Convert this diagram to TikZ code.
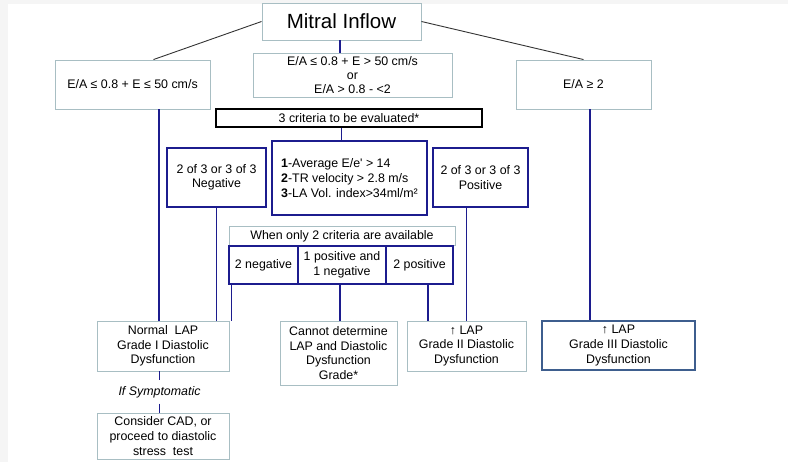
\documentclass[tikz,border=0pt]{standalone}
\usepackage{fontspec}
\setmainfont{Liberation Sans}
\usepackage{tikz}
\usetikzlibrary{positioning}
\usetikzlibrary{calc}
\definecolor{navyLine}{HTML}{1C1C8E}
\definecolor{paleEdge}{HTML}{A8BEC3}
\definecolor{steelEdge}{HTML}{3E5E8E}

\begin{document}
\begin{tikzpicture}[x=1pt, y=-1pt]
	\tikzstyle{every node}=[font=\fontsize{12.4}{14.6}\selectfont, inner sep=2pt, align=center]
	\tikzstyle{pale}=[draw=paleEdge, line width=0.9pt, fill=white]
	\tikzstyle{bold}=[draw=navyLine, line width=2.6pt, fill=white]
	\tikzstyle{link}=[draw=navyLine, line width=1.5pt]
	\tikzstyle{split}=[draw=black!80, line width=0.9pt]
	\useasboundingbox (0,0) rectangle (788,462);
	\fill[gray!8] (0,0) rectangle (788,4);
	\fill[gray!8] (0,0) rectangle (8,462);
	
	\node[pale, minimum width=159pt, minimum height=37pt, font=\fontsize{20.5}{22}\selectfont] (inflow) at (341.5,21.5) {Mitral Inflow};
	\node[pale, minimum width=155pt, minimum height=49pt] (leftCrit) at (132.5,84.5) {E/A ≤ 0.8 + E ≤ 50 cm/s};
	\node[pale, minimum width=199pt, minimum height=44pt, inner sep=0pt] (midCrit) at (352.5,75) {E/A ≤ 0.8 + E > 50 cm/s\\[-0.5pt] or\\[-0.5pt] E/A > 0.8 - <2};
	\node[pale, minimum width=135pt, minimum height=49pt] (rightCrit) at (583.5,84.5) {E/A ≥ 2};
	\draw[split] (inflow.west) -- ([xshift=21pt]leftCrit.north);
	\draw[split] (inflow.east) -- (rightCrit.north);
	\draw[link] (inflow.south -| 340,0) -- (midCrit.north -| 340,0);
	
	\node[draw=black, line width=2.8pt, fill=white, minimum width=266pt, minimum height=18pt, inner sep=0pt] (evalBox) at (349,118) {3 criteria to be evaluated*};
	\node[bold, minimum width=155pt, minimum height=74pt, align=left, font=\fontsize{12.4}{15.4}\selectfont] (criteria) at (349.5,178) {\textbf{1}-Average E/e\textquotesingle{} > 14\\ \textbf{2}-TR velocity > 2.8 m/s\\ \textbf{3}-LA Vol. index>34ml/m²};
	\draw[link] (evalBox.south -| inflow) -- (criteria.north -| inflow);
	\node[bold, minimum width=99pt, minimum height=59pt] (negBox) at (216.5,177.5) {2 of 3 or 3 of 3\\ Negative};
	\node[bold, minimum width=95pt, minimum height=59pt] (posBox) at (480.5,177.5) {2 of 3 or 3 of 3\\ Positive};
	
	\node[pale, minimum width=226pt, minimum height=19pt, inner sep=0pt, anchor=south] (onlyTwo) at (342,246) {When only 2 criteria are available};
	\node[bold, minimum width=69pt, minimum height=38pt, inner sep=0pt] (twoNeg) at (263.5,265) {2 negative};
	\node[bold, minimum width=88pt, minimum height=38pt, inner sep=0pt] (mixed) at (342,265) {1 positive and\\ 1 negative};
	\node[bold, minimum width=67pt, minimum height=38pt, inner sep=0pt] (twoPos) at (419.5,265) {2 positive};
	
	\node[pale, minimum width=132pt, minimum height=50pt, inner sep=0pt] (normal) at (163,346) {Normal\ \ LAP\\ Grade I Diastolic\\ Dysfunction};
	\node[pale, minimum width=117pt, minimum height=64pt, inner sep=0pt] (cannot) at (338.5,353) {Cannot determine\\ LAP and Diastolic\\ Dysfunction\\ Grade*};
	\node[pale, minimum width=119pt, minimum height=50pt, inner sep=0pt] (gradeTwo) at (466.5,346) {↑ LAP\\ Grade II Diastolic\\ Dysfunction};
	\node[draw=steelEdge, line width=2.6pt, minimum width=153pt, minimum height=49pt, inner sep=0pt] (gradeThree) at (618.5,345.5) {↑ LAP\\ Grade III Diastolic\\ Dysfunction};
	\node[minimum height=23pt, inner sep=0pt, font=\fontsize{12.4}{14}\itshape] (symLabel) at (159.5,392) {If Symptomatic};
	\node[pale, minimum width=132pt, minimum height=46pt, inner sep=0pt] (consider) at (163,436) {Consider CAD, or\\ proceed to diastolic\\ stress\ \ test};
	
	\draw[link] ([xshift=26.5pt]leftCrit.south) coordinate (leftDrop) -- (leftDrop |- normal.north);
	\draw[link] (negBox.south) -- (negBox.south |- normal.north);
	\draw[link] ([xshift=4pt]twoNeg.south west) coordinate (negDrop) -- (negDrop |- normal.north);
	\draw[link] ([xshift=-2pt]mixed.south) coordinate (mixDrop) -- (mixDrop |- cannot.north);
	\draw[link] ([xshift=8.5pt]twoPos.south) coordinate (posDrop) -- (posDrop |- gradeTwo.north);
	\draw[link] ([xshift=-14pt]posBox.south) coordinate (allPos) -- (allPos |- gradeTwo.north);
	\draw[link] ([xshift=6.5pt]rightCrit.south) coordinate (rightDrop) -- (rightDrop |- gradeThree.north);
	\draw[link] (normal.south -| symLabel) -- (symLabel.north);
	\draw[link] (symLabel.south) -- (consider.north -| symLabel);
\end{tikzpicture}
\end{document}
